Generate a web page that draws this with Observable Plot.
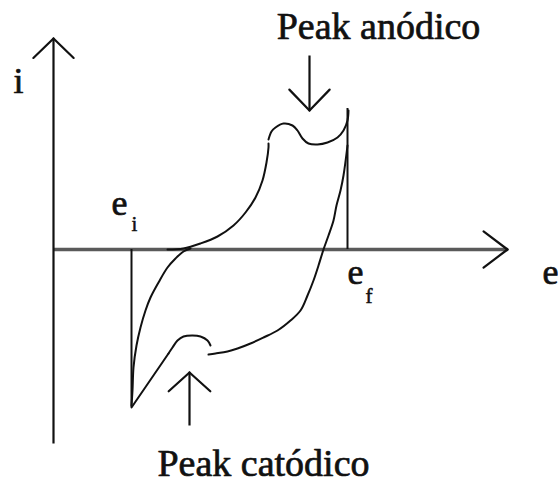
<!DOCTYPE html>
<html>
<head>
<meta charset="utf-8">
<script src="https://cdn.jsdelivr.net/npm/d3@7"></script>
<script src="https://cdn.jsdelivr.net/npm/@observablehq/plot@0.6"></script>
<style>
  body { margin: 0; background: #fff; }
  #chart svg { display: block; }
</style>
</head>
<body>
<div id="chart"></div>
<script>
// Schematic cyclic voltammogram: current i against potential e (arbitrary units).

// Initial and final potentials of the sweep, and the current at the two turning points
const eInitial = 7.8;
const eFinal = 29.4;
const iAtInitial = -15.8;
const iAtFinal = 14.1;

// Forward sweep, rising out of the cathodic corner at e_i
const forwardLowE = [7.8, 7.9, 8.0, 8.3, 8.7, 9.2, 9.7, 10.5, 11.4, 12.2, 13.0, 13.7];
const forwardLowI = [-15.6, -14.1, -11.8, -9.6, -7.8, -6.1, -4.8, -3.3, -1.8, -0.9, -0.2, 0.1];

// Forward sweep, anodic rise
const anodicRiseE = [11.4, 13.0, 14.7, 16.4, 18.0, 19.2, 20.2, 20.9, 21.3, 21.5, 21.5];
const anodicRiseI = [0, 0.1, 0.6, 1.3, 2.4, 3.7, 5.2, 6.9, 8.7, 10.2, 10.6];

// Anodic peak up to the switching potential e_f
const anodicPeakE = [21.5, 21.8, 22.2, 23.0, 23.9, 24.4, 24.9, 25.5, 26.4, 27.4, 28.4, 29.0, 29.4, 29.5];
const anodicPeakI = [11.0, 11.8, 12.2, 12.6, 12.4, 11.9, 11.1, 10.6, 10.5, 10.7, 11.2, 11.9, 12.9, 13.9];

// Reverse sweep from e_f back down
const reverseE = [29.4, 29.0, 28.7, 28.3, 28.0, 27.5, 27.0, 26.5, 26.0, 25.4, 24.7, 23.7, 22.4, 21.0, 19.7, 18.4, 17.4, 16.2, 15.5];
const reverseI = [10.4, 7.4, 5.9, 4.4, 2.9, 1.4, 0, -1.6, -3.1, -4.6, -6.1, -7.1, -8.1, -8.8, -9.4, -9.9, -10.2, -10.4, -10.5];

// Cathodic peak
const cathodicPeakE = [15.7, 15.4, 14.7, 13.9, 13.0, 12.4, 11.9, 11.5];
const cathodicPeakI = [-9.6, -9.1, -8.7, -8.6, -8.7, -9.1, -9.8, -10.4];

// Straight descent from the cathodic peak to the corner at e_i
const cathodicTailE = [11.5, 7.8];
const cathodicTailI = [-10.4, -15.8];

// Arrows: the two axes and the two peak pointers (tail -> tip)
const arrowNames = ["i", "e", "anodic", "cathodic"];
const arrowTailE = [0, 0, 25.6, 13.6];
const arrowTailI = [-19.4, 0, 19.4, -17.6];
const arrowTipE = [0, 45.4, 25.6, 13.6];
const arrowTipI = [21.1, 0, 13.9, -12.3];

// Peak annotations
const peakText = ["Peak anódico", "Peak catódico"];
const peakE = [32.5, 21.0];
const peakI = [21.1, -22.6];

// Axis names
const axisText = ["i", "e"];
const axisE = [-3.5, 48.9];
const axisI = [15.7, -3.4];

// Potential markers e_i and e_f with their subscripts
const markText = ["e", "e"];
const markSub = ["i", "f"];
const markE = [5.8, 29.4];
const markI = [3.5, -3.4];
const subE = [7.8, 31.2];
const subI = [1.9, -5.3];

const zip = (xs, ys) => xs.map((x, k) => ({e: x, i: ys[k]}));

const branches = [
  {points: zip(forwardLowE, forwardLowI), curve: "catmull-rom"},
  {points: zip(anodicRiseE, anodicRiseI), curve: "catmull-rom"},
  {points: zip(anodicPeakE, anodicPeakI), curve: "catmull-rom"},
  {points: zip(reverseE, reverseI), curve: "catmull-rom"},
  {points: zip(cathodicPeakE, cathodicPeakI), curve: "catmull-rom"},
  {points: zip(cathodicTailE, cathodicTailI), curve: "linear"}
];

const arrows = arrowNames.map((name, k) => ({
  name, x1: arrowTailE[k], y1: arrowTailI[k], x2: arrowTipE[k], y2: arrowTipI[k]
}));

// Open chevron heads, built from each arrow's direction at its tip
const headLength = {i: 2.8, e: 3.0, anodic: 2.9, cathodic: 2.8};
const headSpread = {i: 46, e: 37, anodic: 44, cathodic: 48};
const wings = arrows.flatMap((a) => {
  const dx = a.x2 - a.x1, dy = a.y2 - a.y1;
  const len = Math.hypot(dx, dy);
  const ux = dx / len, uy = dy / len;
  const L = headLength[a.name];
  const t = (headSpread[a.name] * Math.PI) / 180;
  return [-1, 1].map((s) => {
    const c = Math.cos(s * t), sn = Math.sin(s * t);
    const rx = ux * c - uy * sn, ry = ux * sn + uy * c;
    return {x1: a.x2, y1: a.y2, x2: a.x2 - L * rx, y2: a.y2 - L * ry, name: a.name};
  });
});

const peaks = peakText.map((text, k) => ({text, e: peakE[k], i: peakI[k]}));
const axisNames = axisText.map((text, k) => ({text, e: axisE[k], i: axisI[k]}));
const marks = markText.map((text, k) => ({text, sub: markSub[k], e: markE[k], i: markI[k], se: subE[k], si: subI[k]}));

const ink = "#111";
const serif = "'Liberation Serif', 'Times New Roman', serif";
// A thin outline in the text colour gives the labels a slightly heavier weight
const textWeight = {fill: ink, stroke: ink, strokeWidth: 0.7, fontFamily: serif, lineAnchor: "bottom"};

const chart = Plot.plot({
  width: 558,
  height: 483,
  margin: 0,
  style: {fontFamily: serif},
  x: {domain: [-5.3, 50.5], range: [0, 558], axis: null},
  y: {domain: [-23.4, 24.9], range: [483, 0], axis: null},
  marks: [
    // e axis (grey, heavier) and i axis
    Plot.link(arrows.filter((a) => a.name === "e"), {x1: "x1", y1: "y1", x2: "x2", y2: "y2", stroke: "#5a5a5a", strokeWidth: 3.5}),
    Plot.link(arrows.filter((a) => a.name !== "e"), {x1: "x1", y1: "y1", x2: "x2", y2: "y2", stroke: ink, strokeWidth: 2.2}),
    Plot.link(wings, {x1: "x1", y1: "y1", x2: "x2", y2: "y2", stroke: ink, strokeWidth: 2.2, strokeLinecap: "round"}),
    // Sweep limits
    Plot.ruleX([eInitial], {y1: 0, y2: iAtInitial, stroke: ink, strokeWidth: 2}),
    Plot.ruleX([eFinal], {y1: 0, y2: iAtFinal, stroke: ink, strokeWidth: 2}),
    // Voltammogram branches
    ...branches.map((b) => Plot.line(b.points, {x: "e", y: "i", curve: b.curve, stroke: ink, strokeWidth: 2})),
    // Peak annotations
    Plot.text(peaks, {x: "e", y: "i", text: "text", textAnchor: "middle", fontSize: 38, ...textWeight}),
    // Axis names
    Plot.text(axisNames.filter((d) => d.text === "i"), {x: "e", y: "i", text: "text", textAnchor: "middle", fontSize: 36, ...textWeight}),
    Plot.text(axisNames.filter((d) => d.text === "e"), {x: "e", y: "i", text: "text", textAnchor: "start", fontSize: 36, ...textWeight}),
    // e_i and e_f
    Plot.text(marks, {x: "e", y: "i", text: "text", textAnchor: "start", fontSize: 36, ...textWeight}),
    Plot.text(marks, {x: "se", y: "si", text: "sub", textAnchor: "start", fontSize: 21, ...textWeight, strokeWidth: 0.5})
  ]
});

document.getElementById("chart").append(chart);
</script>
</body>
</html>
